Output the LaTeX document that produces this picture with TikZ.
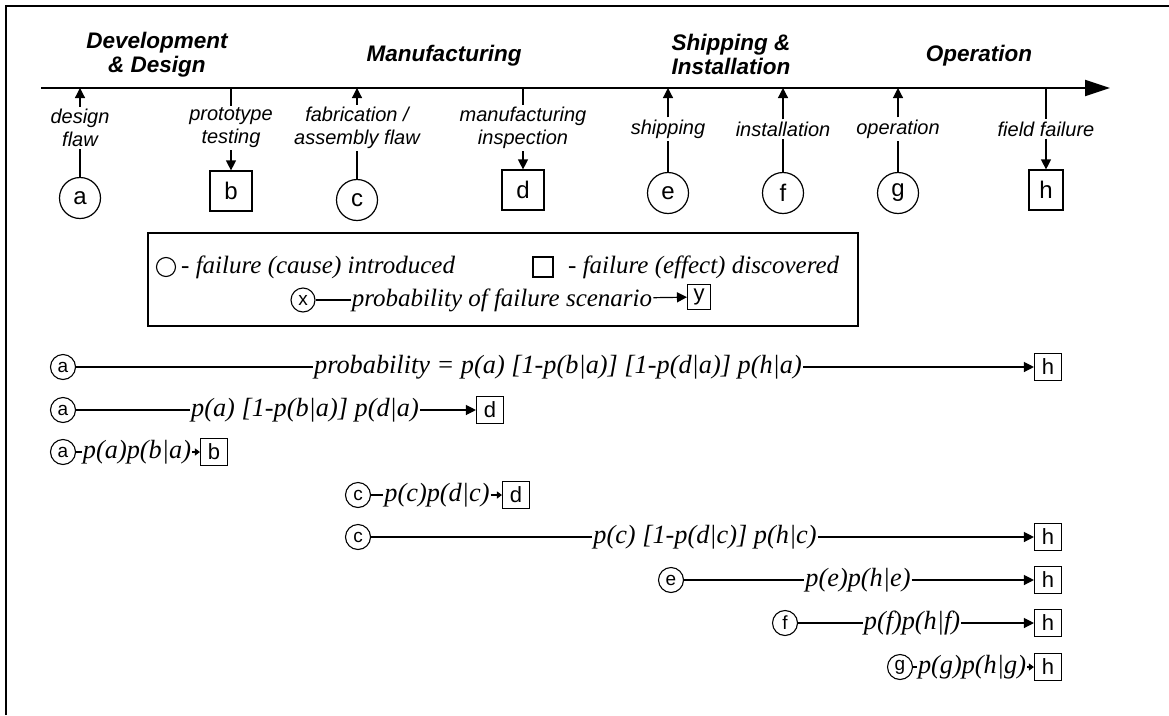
\documentclass[tikz,border=0pt]{standalone}
\usepackage{fontspec}
\setmainfont{Liberation Serif}
\setsansfont{Liberation Sans}
\usetikzlibrary{arrows.meta}

\tikzset{
  phase/.style={font=\sffamily\bfseries\itshape\fontsize{22.5}{24}\selectfont, align=center, inner sep=0pt},
  stage/.style={font=\sffamily\itshape\fontsize{20}{23}\selectfont, align=center, inner sep=2pt},
  cause/.style={circle, draw, line width=1.2pt, minimum size=41pt, inner sep=0pt, font=\sffamily\fontsize{24}{26}\selectfont},
  effect/.style={rectangle, draw, line width=1.2pt, minimum width=42pt, minimum height=40pt, inner sep=0pt, font=\sffamily\fontsize{24}{26}\selectfont},
  scause/.style={circle, draw, line width=1.1pt, minimum size=25pt, inner sep=0pt, font=\sffamily\fontsize{19}{21}\selectfont},
  seffect/.style={rectangle, draw, line width=1.1pt, minimum width=27pt, minimum height=27pt, inner sep=0pt, font=\sffamily\fontsize{22}{24}\selectfont},
  formula/.style={font=\itshape\fontsize{26.3}{30}\selectfont, inner sep=1pt},
  legtext/.style={font=\itshape\fontsize{25}{28}\selectfont, inner sep=1pt},
  link/.style={line width=1.2pt},
  arr/.style={line width=1.2pt, -{Triangle[length=10pt,width=10pt]}},
  shortarr/.style={line width=1.1pt, -{Triangle[length=5pt,width=7pt]}},
}

\begin{document}
\begin{tikzpicture}[x=1pt,y=-1pt]
\useasboundingbox (0,0) rectangle (1169,715);

% page frame
\draw[line width=2.5pt] (6,715) -- (6,6) -- (1169,6);

% time axis
\coordinate (t0) at (41,88);
\coordinate (tend) at (1110,88);
\draw[line width=2.2pt, -{Triangle[length=25pt,width=16pt]}] (t0) -- (tend);

% life-cycle phases
\node[phase] (ph1) at (157,55) {Development\\\& Design};
\node[phase] (ph2) at (444,56) {Manufacturing};
\node[phase] (ph3) at (731,54) {Shipping \&\\Installation};
\node[phase] (ph4) at (979,56) {Operation};

% points on the axis
\coordinate (pa) at (80,88);
\coordinate (pb) at (231,88);
\coordinate (pc) at (357,88);
\coordinate (pd) at (523,88);
\coordinate (pe) at (668,88);
\coordinate (pf) at (783,88);
\coordinate (pg) at (898,88);
\coordinate (ph) at (1046,88);

% stage labels
\node[stage] (la) at (80,128) {design\\flaw};
\node[stage] (lb) at (231,128) {prototype\\testing};
\node[stage] (lc) at (357,128) {fabrication /\\assembly flaw};
\node[stage] (ld) at (523,128) {manufacturing\\inspection};
\node[stage] (le) at (668,129) {shipping};
\node[stage] (lf) at (783,129) {installation};
\node[stage] (lg) at (898,129) {operation};
\node[stage] (lh) at (1046,129) {field failure};

% causes (circles) and discoveries (squares)
\node[cause] (a) at (80,198) {a};
\node[effect] (b) at (231,191) {b};
\node[cause] (c) at (357,200) {c};
\node[effect] (d) at (523,190) {d};
\node[cause] (e) at (668,193) {e};
\node[cause] (f) at (783,193) {f};
\node[cause] (g) at (898,193) {g};
\node[effect, minimum width=34pt] (h) at (1046,190) {h};

% causes point up to the axis
\foreach \s in {a,c,e,f,g}{
  \draw[link] (\s) -- (l\s);
  \draw[arr] (l\s) -- (p\s);
}
% discoveries are reached from the axis
\foreach \s in {b,d,h}{
  \draw[link] (p\s) -- (l\s);
  \draw[arr] (l\s) -- (\s);
}

% legend
\node[draw, line width=2pt, minimum width=710pt, minimum height=93pt] (legend) at (503,279.5) {};
\node[circle, draw, line width=1.1pt, minimum size=19pt, inner sep=0pt] (kc) at (166,267) {};
\node[legtext, anchor=west] (kct) at (180,267) {- failure (cause) introduced};
\node[draw, line width=1.1pt, minimum size=20pt, inner sep=0pt] (ks) at (543,267) {};
\node[legtext, anchor=west] (kst) at (567,267) {- failure (effect) discovered};
\node[scause, minimum size=24pt] (kx) at (303,300) {x};
\node[legtext] (kxt) at (502,300) {probability of failure scenario};
\node[seffect, minimum width=23pt, minimum height=25pt] (ky) at (699,297) {y};
\draw[link] (kx) -- (kxt);
\draw[arr] (kxt) -- (ky);

% failure scenarios
\node[scause] (r1a) at (63,367) {a};
\node[formula] (r1t) at (558,367) {probability = p(a) [1-p(b|a)] [1-p(d|a)] p(h|a)};
\node[seffect] (r1h) at (1048,367) {h};
\draw[link] (r1a) -- (r1t);
\draw[arr] (r1t) -- (r1h);

\node[scause] (r2a) at (63,410) {a};
\node[formula] (r2t) at (305,410) {p(a) [1-p(b|a)] p(d|a)};
\node[seffect] (r2d) at (490,410) {d};
\draw[link] (r2a) -- (r2t);
\draw[arr] (r2t) -- (r2d);

\node[scause] (r3a) at (63,452) {a};
\node[formula] (r3t) at (137,452) {p(a)p(b|a)};
\node[seffect] (r3b) at (214,452) {b};
\draw[link] (r3a) -- (r3t);
\draw[shortarr] (r3t) -- (r3b);

\node[scause] (r4c) at (358,495) {c};
\node[formula] (r4t) at (437,495) {p(c)p(d|c)};
\node[seffect] (r4d) at (516,495) {d};
\draw[link] (r4c) -- (r4t);
\draw[shortarr] (r4t) -- (r4d);

\node[scause] (r5c) at (358,537) {c};
\node[formula] (r5t) at (705,537) {p(c) [1-p(d|c)] p(h|c)};
\node[seffect] (r5h) at (1048,537) {h};
\draw[link] (r5c) -- (r5t);
\draw[arr] (r5t) -- (r5h);

\node[scause] (r6e) at (671,580) {e};
\node[formula] (r6t) at (858,580) {p(e)p(h|e)};
\node[seffect] (r6h) at (1048,580) {h};
\draw[link] (r6e) -- (r6t);
\draw[arr] (r6t) -- (r6h);

\node[scause] (r7f) at (785,623) {f};
\node[formula] (r7t) at (912,623) {p(f)p(h|f)};
\node[seffect] (r7h) at (1048,623) {h};
\draw[link] (r7f) -- (r7t);
\draw[arr] (r7t) -- (r7h);

\node[scause] (r8g) at (900,667) {g};
\node[formula] (r8t) at (972,667) {p(g)p(h|g)};
\node[seffect] (r8h) at (1048,667) {h};
\draw[link] (r8g) -- (r8t);
\draw[shortarr] (r8t) -- (r8h);
\end{tikzpicture}
\end{document}
